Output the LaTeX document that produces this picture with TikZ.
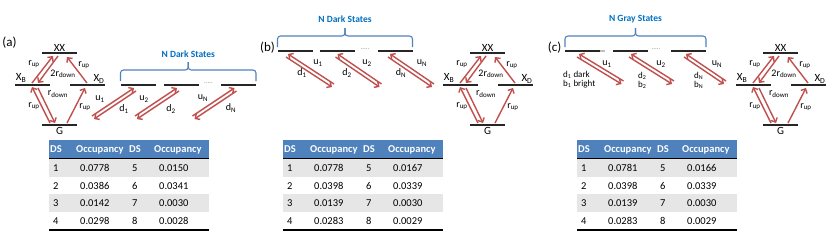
\documentclass[tikz,border=0pt]{standalone}
\usepackage{fontspec}
\setmainfont{Carlito}
\usepackage{colortbl}
\usetikzlibrary{arrows.meta, calc}
\definecolor{arRed}{RGB}{192,80,77}
\definecolor{brBlue}{RGB}{79,129,189}
\definecolor{lblBlue}{RGB}{0,112,192}
\definecolor{hdBlue}{RGB}{79,129,189}
\definecolor{rowGray}{RGB}{230,230,230}
\definecolor{lvlGray}{RGB}{38,38,38}
\setlength{\tabcolsep}{0pt}
\newcommand{\rowstrut}{\rule[-5.2pt]{0pt}{17.6pt}}
\newcommand{\hdstrut}{\rule[-5.6pt]{0pt}{18pt}}
\newcommand{\tabhead}[1]{\color{white}\bfseries #1}
\newcolumntype{T}{@{}>{\hspace*{4pt}}p{24pt}>{\hspace*{7pt}}p{54pt}>{\hspace*{5pt}}p{22pt}>{\hspace*{10pt}}p{60pt}@{}}
\tikzset{
  level/.style={rectangle, fill=lvlGray, minimum width=35pt, minimum height=1.8pt,
    inner sep=0pt, outer sep=0pt},
  trans/.style={-{Straight Barb[length=3.5pt,width=7pt]}, line width=1.4pt, draw=arRed},
  lbl/.style={font=\fontsize{10}{11}\selectfont, inner sep=0pt},
  smlbl/.style={font=\fontsize{9}{9}\selectfont, inner sep=0pt, align=left, anchor=west},
  statelbl/.style={font=\fontsize{11}{12}\selectfont, inner sep=0pt},
  panellbl/.style={font=\fontsize{13}{14}\selectfont, inner sep=0pt},
  bracelbl/.style={font=\fontsize{9.5}{10}\selectfont\bfseries, text=lblBlue, inner sep=0pt},
  brace/.style={draw=brBlue, line width=1.1pt, rounded corners=3pt},
  dots/.style={font=\fontsize{7}{7}\selectfont, text=black!45, inner sep=0pt},
  tablebox/.style={inner sep=0pt, anchor=north west, font=\fontsize{10.5}{12}\selectfont},
}

\begin{document}
\begin{tikzpicture}[x=1pt, y=-1pt]
\useasboundingbox (0,0) rectangle (830,242);

%% PANEL (a)
\node[panellbl] (pa) at (9.5,43) {(a)};

% biexciton levels
\node[level] (XXa) at (59.5,53) {};
\node[level] (XBa) at (32.5,85) {};
\node[level] (XDa) at (87.5,85) {};
\node[level] (Ga)  at (59.5,125) {};
\node[statelbl] (XXta) at (59.5,47.5) {XX};
\node[statelbl] (XBta) at (21,78) {X\textsubscript{B}};
\node[statelbl] (XDta) at (99,79) {X\textsubscript{D}};
\node[statelbl] (Gta)  at (59.5,130.5) {G};

\draw[trans] ([shift={(-0.5,-2)}]XBa.center) -- ([shift={(-6.5,3)}]XXa.center);
\draw[trans] ([shift={(-1.5,3)}]XXa.center) -- ([shift={(5.5,-2)}]XBa.center);
\draw[trans] ([shift={(-0.5,-2)}]XDa.center) -- ([shift={(7.5,4)}]XXa.center);
\draw[trans] ([shift={(-9.5,-2)}]Ga.center) -- ([shift={(-0.5,2)}]XBa.center);
\draw[trans] ([shift={(5.5,3)}]XBa.center) -- ([shift={(-4.5,-2)}]Ga.center);
\draw[trans] ([shift={(7.5,-2)}]Ga.center) -- ([shift={(-2.5,3)}]XDa.center);

\node[lbl] (r1a) at (34,64)  {r\textsubscript{up}};
\node[lbl] (r2a) at (63,74)  {2r\textsubscript{down}};
\node[lbl] (r3a) at (84,65)  {r\textsubscript{up}};
\node[lbl] (r4a) at (58,94)  {r\textsubscript{down}};
\node[lbl] (r5a) at (34,106) {r\textsubscript{up}};
\node[lbl] (r6a) at (85,107) {r\textsubscript{up}};

% dark states
\node[level] (D1a) at (138,85) {};
\node[level] (D2a) at (181,85) {};
\node[dots]  (DOTa) at (208.5,83) {.....};
\node[level] (DNa) at (238.5,85) {};

\draw[brace] ($(D1a.west)+(0,-4)$) |- ($(D1a.west)!0.5!(DNa.east)+(0,-15)$) -- ++(0,-8);
\draw[brace] ($(DNa.east)+(0,-4)$) |- ($(D1a.west)!0.5!(DNa.east)+(0,-15)$) -- ++(0,-8);
\node[bracelbl] (NDa) at ($(D1a.west)!0.5!(DNa.east)+(0,-31)$) {N Dark States};

\draw[trans] ([shift={(-46,31)}]D1a.center) -- ([shift={(-4,3)}]D1a.center);
\draw[trans] ([shift={(-2,6)}]D1a.center) -- ([shift={(-44,34)}]D1a.center);
\draw[trans] ([shift={(-46,31)}]D2a.center) -- ([shift={(-4,3)}]D2a.center);
\draw[trans] ([shift={(-2,6)}]D2a.center) -- ([shift={(-44,34)}]D2a.center);
\draw[trans] ([shift={(-46,31)}]DNa.center) -- ([shift={(-4,3)}]DNa.center);
\draw[trans] ([shift={(-2,6)}]DNa.center) -- ([shift={(-44,34)}]DNa.center);

\node[lbl] (u1a) at (100,99)  {u\textsubscript{1}};
\node[lbl] (d1a) at (124,109) {d\textsubscript{1}};
\node[lbl] (u2a) at (144,99)  {u\textsubscript{2}};
\node[lbl] (d2a) at (171,109) {d\textsubscript{2}};
\node[lbl] (uNa) at (203,98)  {u\textsubscript{N}};
\node[lbl] (dNa) at (231,108) {d\textsubscript{N}};

\node[tablebox] (tabA) at (49,140) {\begin{tabular}{T}
  \rowcolor{hdBlue}\hdstrut\tabhead{\hspace*{-3pt}DS} & \tabhead{\hspace*{-4pt}Occupancy} & \tabhead{\hspace*{-3pt}DS} & \tabhead{\hspace*{-5pt}Occupancy}\\
  \noalign{\hrule height 0.8pt}
  \rowcolor{rowGray}\rowstrut 1 & 0.0778 & 5 & 0.0150\\
  \rowstrut 2 & 0.0386 & 6 & 0.0341\\
  \rowcolor{rowGray}\rowstrut 3 & 0.0142 & 7 & 0.0030\\
  \rowstrut 4 & 0.0298 & 8 & 0.0028\\
  \noalign{\hrule height 1.5pt}
\end{tabular}};

%% PANEL (b)
\node[panellbl] (pb) at (267.5,48) {(b)};

% dark states
\node[level] (D1b) at (295,51) {};
\node[level] (D2b) at (337.5,51) {};
\node[dots]  (DOTb) at (365,49) {.....};
\node[level] (DNb) at (395,51) {};

\draw[brace] ($(D1b.west)+(0,-4)$) |- ($(D1b.west)!0.5!(DNb.east)+(0,-15)$) -- ++(0,-8);
\draw[brace] ($(DNb.east)+(0,-4)$) |- ($(D1b.west)!0.5!(DNb.east)+(0,-15)$) -- ++(0,-8);
\node[bracelbl] (NDb) at ($(D1b.west)!0.5!(DNb.east)+(0,-32)$) {N Dark States};

\draw[trans] ([shift={(39,33)}]D1b.center) -- ([shift={(-7,3)}]D1b.center);
\draw[trans] ([shift={(-9,6)}]D1b.center) -- ([shift={(37,36)}]D1b.center);
\draw[trans] ([shift={(44,33)}]D2b.center) -- ([shift={(0,3)}]D2b.center);
\draw[trans] ([shift={(-2,6)}]D2b.center) -- ([shift={(42,36)}]D2b.center);
\draw[trans] ([shift={(39,33)}]DNb.center) -- ([shift={(-5,3)}]DNb.center);
\draw[trans] ([shift={(-7,6)}]DNb.center) -- ([shift={(37,36)}]DNb.center);

\node[lbl] (u1b) at (318,63) {u\textsubscript{1}};
\node[lbl] (d1b) at (302,73) {d\textsubscript{1}};
\node[lbl] (u2b) at (367,63) {u\textsubscript{2}};
\node[lbl] (d2b) at (347,73) {d\textsubscript{2}};
\node[lbl] (uNb) at (422,63) {u\textsubscript{N}};
\node[lbl] (dNb) at (401,73) {d\textsubscript{N}};

% biexciton levels
\begin{scope}[xshift=428]
\node[level] (XXb) at (59.5,53) {};
\node[level] (XBb) at (32.5,85) {};
\node[level] (XDb) at (87.5,85) {};
\node[level] (Gb)  at (59.5,125) {};
\node[statelbl] (XXtb) at (59.5,47.5) {XX};
\node[statelbl] (XBtb) at (21,78) {X\textsubscript{B}};
\node[statelbl] (XDtb) at (99,79) {X\textsubscript{D}};
\node[statelbl] (Gtb)  at (59.5,130.5) {G};

\draw[trans] ([shift={(-0.5,-2)}]XBb.center) -- ([shift={(-6.5,3)}]XXb.center);
\draw[trans] ([shift={(-1.5,3)}]XXb.center) -- ([shift={(5.5,-2)}]XBb.center);
\draw[trans] ([shift={(-0.5,-2)}]XDb.center) -- ([shift={(7.5,4)}]XXb.center);
\draw[trans] ([shift={(-9.5,-2)}]Gb.center) -- ([shift={(-0.5,2)}]XBb.center);
\draw[trans] ([shift={(5.5,3)}]XBb.center) -- ([shift={(-4.5,-2)}]Gb.center);
\draw[trans] ([shift={(7.5,-2)}]Gb.center) -- ([shift={(-2.5,3)}]XDb.center);

\node[lbl] (r1b) at (34,64)  {r\textsubscript{up}};
\node[lbl] (r2b) at (63,74)  {2r\textsubscript{down}};
\node[lbl] (r3b) at (84,65)  {r\textsubscript{up}};
\node[lbl] (r4b) at (58,94)  {r\textsubscript{down}};
\node[lbl] (r5b) at (34,106) {r\textsubscript{up}};
\node[lbl] (r6b) at (85,107) {r\textsubscript{up}};
\end{scope}

\node[tablebox] (tabB) at (283,140) {\begin{tabular}{T}
  \rowcolor{hdBlue}\hdstrut\tabhead{\hspace*{-3pt}DS} & \tabhead{\hspace*{-4pt}Occupancy} & \tabhead{\hspace*{-3pt}DS} & \tabhead{\hspace*{-5pt}Occupancy}\\
  \noalign{\hrule height 0.8pt}
  \rowcolor{rowGray}\rowstrut 1 & 0.0778 & 5 & 0.0167\\
  \rowstrut 2 & 0.0398 & 6 & 0.0339\\
  \rowcolor{rowGray}\rowstrut 3 & 0.0139 & 7 & 0.0030\\
  \rowstrut 4 & 0.0283 & 8 & 0.0029\\
  \noalign{\hrule height 1.5pt}
\end{tabular}};

%% PANEL (c)
\node[panellbl] (pc) at (554.5,48) {(c)};

% gray states
\node[level] (D1c) at (582.5,51) {};
\draw[black!25, line width=1.8pt] (D1c.east) -- ++(5,0);
\node[level] (D2c) at (630.5,51) {};
\node[dots]  (DOTc) at (656,49) {.....};
\node[level] (DNc) at (688.5,51) {};

\draw[brace] ($(D1c.west)+(0,-4)$) |- ($(D1c.west)!0.5!(DNc.east)+(0,-15)$) -- ++(0,-8);
\draw[brace] ($(DNc.east)+(0,-4)$) |- ($(D1c.west)!0.5!(DNc.east)+(0,-15)$) -- ++(0,-8);
\node[bracelbl] (NGc) at ($(D1c.west)!0.5!(DNc.east)+(0,-32)$) {N Gray States};

\draw[trans] ([shift={(41,30)}]D1c.center) -- ([shift={(-3.5,3)}]D1c.center);
\draw[trans] ([shift={(-5.5,6)}]D1c.center) -- ([shift={(39,33)}]D1c.center);
\draw[trans] ([shift={(43.5,30)}]D2c.center) -- ([shift={(0.5,3)}]D2c.center);
\draw[trans] ([shift={(-1.5,6)}]D2c.center) -- ([shift={(41.5,33)}]D2c.center);
\draw[trans] ([shift={(37.5,30)}]DNc.center) -- ([shift={(-2.5,3)}]DNc.center);
\draw[trans] ([shift={(-4.5,6)}]DNc.center) -- ([shift={(35.5,33)}]DNc.center);

\node[lbl] (u1c) at (607,64) {u\textsubscript{1}};
\node[lbl] (u2c) at (661,64) {u\textsubscript{2}};
\node[lbl] (uNc) at (717,64) {u\textsubscript{N}};
\node[smlbl] (db1c) at (563,80) {d\textsubscript{1} dark\\b\textsubscript{1} bright};
\node[smlbl] (db2c) at (638,80) {d\textsubscript{2}\\b\textsubscript{2}};
\node[smlbl] (dbNc) at (694,80) {d\textsubscript{N}\\b\textsubscript{N}};

% biexciton levels
\begin{scope}[xshift=721]
\node[level] (XXc) at (59.5,53) {};
\node[level] (XBc) at (32.5,85) {};
\node[level] (XDc) at (87.5,85) {};
\node[level] (Gc)  at (59.5,125) {};
\node[statelbl] (XXtc) at (59.5,47.5) {XX};
\node[statelbl] (XBtc) at (21,78) {X\textsubscript{B}};
\node[statelbl] (XDtc) at (99,79) {X\textsubscript{D}};
\node[statelbl] (Gtc)  at (59.5,130.5) {G};

\draw[trans] ([shift={(-0.5,-2)}]XBc.center) -- ([shift={(-6.5,3)}]XXc.center);
\draw[trans] ([shift={(-1.5,3)}]XXc.center) -- ([shift={(5.5,-2)}]XBc.center);
\draw[trans] ([shift={(-0.5,-2)}]XDc.center) -- ([shift={(7.5,4)}]XXc.center);
\draw[trans] ([shift={(-9.5,-2)}]Gc.center) -- ([shift={(-0.5,2)}]XBc.center);
\draw[trans] ([shift={(5.5,3)}]XBc.center) -- ([shift={(-4.5,-2)}]Gc.center);
\draw[trans] ([shift={(7.5,-2)}]Gc.center) -- ([shift={(-2.5,3)}]XDc.center);

\node[lbl] (r1c) at (34,64)  {r\textsubscript{up}};
\node[lbl] (r2c) at (63,74)  {2r\textsubscript{down}};
\node[lbl] (r3c) at (84,65)  {r\textsubscript{up}};
\node[lbl] (r4c) at (58,94)  {r\textsubscript{down}};
\node[lbl] (r5c) at (34,106) {r\textsubscript{up}};
\node[lbl] (r6c) at (85,107) {r\textsubscript{up}};
\end{scope}

\node[tablebox] (tabC) at (577,140) {\begin{tabular}{T}
  \rowcolor{hdBlue}\hdstrut\tabhead{\hspace*{-3pt}DS} & \tabhead{\hspace*{-4pt}Occupancy} & \tabhead{\hspace*{-3pt}DS} & \tabhead{\hspace*{-5pt}Occupancy}\\
  \noalign{\hrule height 0.8pt}
  \rowcolor{rowGray}\rowstrut 1 & 0.0781 & 5 & 0.0166\\
  \rowstrut 2 & 0.0398 & 6 & 0.0339\\
  \rowcolor{rowGray}\rowstrut 3 & 0.0139 & 7 & 0.0030\\
  \rowstrut 4 & 0.0283 & 8 & 0.0029\\
  \noalign{\hrule height 1.5pt}
\end{tabular}};

\end{tikzpicture}
\end{document}
